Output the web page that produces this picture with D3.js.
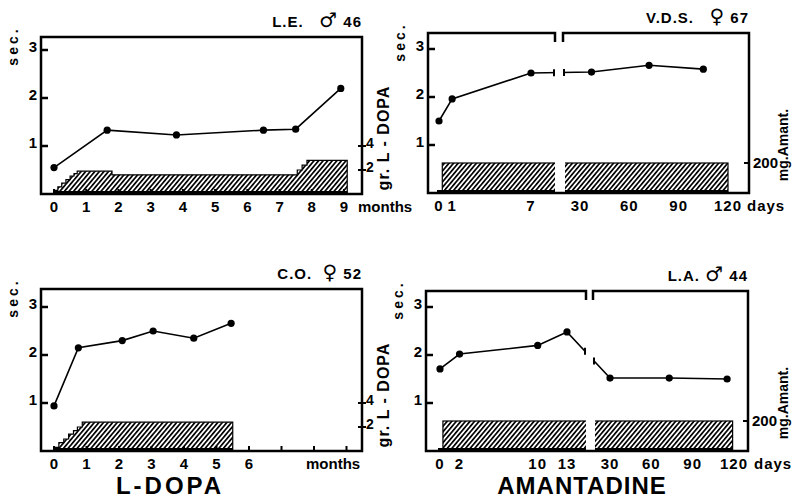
<!DOCTYPE html>
<html>
<head>
<meta charset="utf-8">
<script src="https://d3js.org/d3.v7.min.js"></script>
<style>
  html, body { margin: 0; padding: 0; background: #fff; }
  svg text { font-family: "Liberation Sans", Arial, sans-serif; font-weight: bold; fill: #000; }
</style>
</head>
<body>
<div id="chart"></div>
<script>
// --- data ---
// L.E. (L-DOPA, months)
var leMonths = [0, 1.65, 3.8, 6.5, 7.5, 8.9];
var leSec    = [0.55, 1.33, 1.23, 1.33, 1.35, 2.2];
var leDoseMonths = [0, 0.12, 0.24, 0.37, 0.5, 0.62, 0.72, 1.8, 7.55, 7.7, 7.85, 9.1];
var leDoseGr     = [0.3, 0.6, 0.9, 1.2, 1.5, 1.7, 1.9, 1.6, 2.0, 2.4, 2.8, 2.8];

// C.O. (L-DOPA, months)
var coMonths = [0, 0.75, 2.1, 3.05, 4.3, 5.45];
var coSec    = [0.94, 2.15, 2.3, 2.5, 2.35, 2.66];
var coDoseMonths = [0, 0.15, 0.3, 0.45, 0.6, 0.72, 0.87, 5.5];
var coDoseGr     = [0.3, 0.7, 1.0, 1.4, 1.7, 2.0, 2.4, 2.4];

// V.D.S. (Amantadine, days)
var vdsDays = [0, 1, 7, 37, 72, 105];
var vdsSec  = [1.5, 1.96, 2.5, 2.52, 2.66, 2.58];
var vdsDoseDays = [0.25, 120];
var vdsDoseMg   = [200, 200];

// L.A. (Amantadine, days)
var laDays = [0, 2, 10, 13, 30, 73, 115];
var laSec  = [1.71, 2.02, 2.2, 2.48, 1.52, 1.52, 1.5];
var laDoseDays = [0.3, 119];
var laDoseMg   = [200, 200];

// axis tick labels
var monthTicksLE = [0, 1, 2, 3, 4, 5, 6, 7, 8, 9];
var monthTicksCO = [0, 1, 2, 3, 4, 5, 6];
var monthTickMarks = [0, 1, 2, 3, 4, 5, 6, 7, 8, 9];
var dayTicksVDS = [0, 1, 7, 30, 60, 90, 120];
var dayTicksLA  = [0, 2, 10, 13, 30, 60, 90, 120];
var secTicks = [1, 2, 3];
var grTicks = [2, 4];
var mgTicks = [200];

var svg = d3.select('#chart').append('svg')
    .attr('width', 792)
    .attr('height', 499);

var defs = svg.append('defs');
var hatch = defs.append('pattern')
    .attr('id', 'hatch')
    .attr('patternUnits', 'userSpaceOnUse')
    .attr('width', 3.5)
    .attr('height', 10)
    .attr('patternTransform', 'rotate(40)');
hatch.append('rect').attr('width', 3.5).attr('height', 10).attr('fill', '#fff');
hatch.append('line')
    .attr('x1', 0.8).attr('y1', 0).attr('x2', 0.8).attr('y2', 10)
    .attr('stroke', '#000').attr('stroke-width', 1.8);

// L-DOPA panels -------------------------------------------------------------
function lDopaPanel(o){
    var g = svg.append('g');
    var x = d3.scaleLinear().domain([0, o.xMax]).range(o.xRange);
    var y = d3.scaleLinear().domain([0, 3]).range([o.b, o.b - 144]);
    var yd = d3.scaleLinear().domain([0, 4]).range([o.b, o.b - 48]);

    // hatched dose staircase
    var doses = o.doseX.map(function(d, i){ return {x: d, v: o.doseV[i]}; });
    var area = d3.area()
        .curve(d3.curveStepAfter)
        .x(function(d){ return x(d.x); })
        .y0(o.b)
        .y1(function(d){ return yd(d.v); });
    g.append('path').datum(doses)
        .attr('d', area)
        .attr('fill', 'url(#hatch)')
        .attr('stroke', '#000')
        .attr('stroke-width', 1.2);
    g.append('rect')
        .attr('x', x(o.doseX[0])).attr('y', o.b - 3)
        .attr('width', x(o.doseX[o.doseX.length-1]) - x(o.doseX[0]))
        .attr('height', 3).attr('fill', '#000');

    frame(g, o, null);

    // x ticks inside, labels below
    g.selectAll('.xt').data(monthTickMarks).enter().append('line')
        .attr('x1', x).attr('x2', x)
        .attr('y1', o.b).attr('y2', o.b - 5)
        .attr('stroke', '#000').attr('stroke-width', 2);
    g.selectAll('.xl').data(o.xLabels).enter().append('text')
        .attr('x', x).attr('y', o.b + 18)
        .attr('text-anchor', 'middle')
        .style('font-size', '15px')
        .text(function(d){ return d; });
    g.append('text')
        .attr('x', o.unitX).attr('y', o.b + 18)
        .style('font-size', '15px')
        .text('months');

    secAxis(g, o, y);

    // right gr. axis
    g.selectAll('.gt').data(grTicks).enter().append('line')
        .attr('x1', o.r - 4).attr('x2', o.r + 4)
        .attr('y1', yd).attr('y2', yd)
        .attr('stroke', '#000').attr('stroke-width', 2);
    g.selectAll('.gl').data(grTicks).enter().append('text')
        .attr('x', o.r + 4).attr('y', function(d){ return yd(d) + 2; })
        .style('font-size', '14px')
        .text(function(d){ return d; });
    g.append('text')
        .attr('transform', 'translate(' + (o.r + 27) + ',' + (o.b - 56) + ') rotate(-90)')
        .attr('text-anchor', 'middle')
        .style('font-size', '16px')
        .style('letter-spacing', '1px')
        .style('white-space', 'pre')
        .text('gr. L - DOPA');

    var pts = o.px.map(function(d, i){ return [x(d), y(o.py[i])]; });
    series(g, pts, pts);
    title(g, o);
}

// Amantadine panels (broken day axis) ----------------------------------------
function amantadinePanel(o){
    var g = svg.append('g');
    var xl = d3.scaleLinear().domain(o.leftDom).range(o.leftRange);
    var xr = d3.scaleLinear().domain([30, 120]).range(o.rightRange);
    var x = function(d){ return d <= o.split ? xl(d) : xr(d); };
    var y = d3.scaleLinear().domain([0, 3]).range([o.b, o.b - 144]);
    var ym = d3.scaleLinear().domain([0, 200]).range([o.b, o.b - 30]);

    var clipId = 'clip' + o.id;
    var cp = defs.append('clipPath').attr('id', clipId);
    cp.append('rect').attr('x', 0).attr('y', 0).attr('width', o.gap[0]).attr('height', 499);
    cp.append('rect').attr('x', o.gap[1]).attr('y', 0).attr('width', 792 - o.gap[1]).attr('height', 499);
    var cpBar = defs.append('clipPath').attr('id', clipId + 'b');
    cpBar.append('rect').attr('x', 0).attr('y', 0).attr('width', o.gap[0]).attr('height', 499);
    cpBar.append('rect').attr('x', o.gap[1] + 2).attr('y', 0).attr('width', 792 - o.gap[1]).attr('height', 499);

    // bar runs through both sides of the break
    var bx0 = xl(o.doseX[0]), bx1 = xr(o.doseX[1]);
    var gb = g.append('g').attr('clip-path', 'url(#' + clipId + 'b)');
    gb.append('rect')
        .attr('x', bx0).attr('y', ym(o.doseV[0]))
        .attr('width', bx1 - bx0).attr('height', o.b - ym(o.doseV[0]))
        .attr('fill', 'url(#hatch)')
        .attr('stroke', '#000').attr('stroke-width', 1.2);
    gb.append('rect')
        .attr('x', xl(0) - 2).attr('y', o.b - 3)
        .attr('width', bx1 - xl(0) + 2).attr('height', 3)
        .attr('fill', '#000');

    frame(g, o, o.gap);

    g.selectAll('.xl').data(o.xLabels).enter().append('text')
        .attr('x', x).attr('y', o.b + 18)
        .attr('text-anchor', 'middle')
        .style('font-size', '15px')
        .style('letter-spacing', '1px')
        .text(function(d){ return d; });
    g.append('text')
        .attr('x', o.unitX).attr('y', o.b + 18)
        .style('font-size', '15px')
        .style('letter-spacing', '1px')
        .text('days');

    secAxis(g, o, y);

    // right mg axis
    g.selectAll('.mt').data(mgTicks).enter().append('line')
        .attr('x1', o.r - 5).attr('x2', o.r + 1)
        .attr('y1', ym).attr('y2', ym)
        .attr('stroke', '#000').attr('stroke-width', 2);
    g.selectAll('.ml').data(mgTicks).enter().append('text')
        .attr('x', o.r + 4).attr('y', function(d){ return ym(d) + 5; })
        .style('font-size', '15px')
        .text(function(d){ return d; });
    g.append('text')
        .attr('transform', 'translate(788,' + (o.b - 48) + ') rotate(-90)')
        .attr('text-anchor', 'middle')
        .style('font-size', '14px')
        .text('mg.Amant.');

    var pts = o.px.map(function(d, i){ return [x(d), y(o.py[i])]; });
    var gl = g.append('g').attr('clip-path', 'url(#' + clipId + ')');
    series(gl, pts, pts);

    // little end marks where the line meets the break
    var i = o.px.findIndex(function(d){ return d > o.split; });
    var a = pts[i-1], c = pts[i];
    [o.gap[0] - 1, o.gap[1] + 1].forEach(function(bx){
        var t = (bx - a[0]) / (c[0] - a[0]);
        var by = a[1] + t * (c[1] - a[1]);
        g.append('line')
            .attr('x1', bx).attr('x2', bx)
            .attr('y1', by - 3.5).attr('y2', by + 3.5)
            .attr('stroke', '#000').attr('stroke-width', 2);
    });

    title(g, o);
}

function frame(g, o, gap){
    var w = 2.5;
    if(gap){
        g.append('path')
            .attr('d', 'M' + gap[0] + ',' + (o.t + 9) + 'V' + o.t + 'H' + o.l + 'V' + o.b + 'H' + o.r + 'V' + o.t + 'H' + gap[1] + 'V' + (o.t + 9))
            .attr('fill', 'none').attr('stroke', '#000').attr('stroke-width', w);
    }else{
        g.append('rect')
            .attr('x', o.l).attr('y', o.t)
            .attr('width', o.r - o.l).attr('height', o.b - o.t)
            .attr('fill', 'none').attr('stroke', '#000').attr('stroke-width', w);
    }
}

function secAxis(g, o, y){
    g.selectAll('.st').data(secTicks).enter().append('line')
        .attr('x1', o.l).attr('x2', o.l + 7)
        .attr('y1', y).attr('y2', y)
        .attr('stroke', '#000').attr('stroke-width', 2.5);
    g.selectAll('.sl').data(secTicks).enter().append('text')
        .attr('x', o.l - 4).attr('y', function(d){ return y(d) + 2; })
        .attr('text-anchor', 'end')
        .style('font-size', '15px')
        .text(function(d){ return d; });
    g.append('text')
        .attr('transform', 'translate(' + (o.l - 23) + ',' + (o.t + 9) + ') rotate(-90)')
        .attr('text-anchor', 'middle')
        .style('font-size', '14px')
        .style('letter-spacing', '3px')
        .text('sec.');
}

function series(g, linePts, dotPts){
    g.append('path')
        .attr('d', d3.line()(linePts))
        .attr('fill', 'none')
        .attr('stroke', '#000')
        .attr('stroke-width', 1.6);
    g.selectAll('circle').data(dotPts).enter().append('circle')
        .attr('cx', function(d){ return d[0]; })
        .attr('cy', function(d){ return d[1]; })
        .attr('r', 3.6)
        .attr('fill', '#000');
}

function title(g, o){
    var t = g.append('text')
        .attr('x', o.r).attr('y', o.t - 10)
        .attr('text-anchor', 'end')
        .style('font-size', '15px')
        .style('letter-spacing', '1px')
        .style('white-space', 'pre');
    t.append('tspan').text(o.title[0]);
    t.append('tspan')
        .style('font-family', '"DejaVu Sans", sans-serif')
        .style('font-size', '20px')
        .text(o.title[1]);
    t.append('tspan').text(o.title[2]);
}

lDopaPanel({
    l: 41, r: 362, t: 37, b: 194,
    xMax: 9, xRange: [54, 344],
    xLabels: monthTicksLE, unitX: 358,
    px: leMonths, py: leSec,
    doseX: leDoseMonths, doseV: leDoseGr,
    title: ['L.E.   ', '\u2642', ' 46']
});

lDopaPanel({
    l: 41, r: 362, t: 289, b: 451,
    xMax: 6, xRange: [54, 249],
    xLabels: monthTicksCO, unitX: 306,
    px: coMonths, py: coSec,
    doseX: coDoseMonths, doseV: coDoseGr,
    title: ['C.O.  ', '\u2640', ' 52']
});

amantadinePanel({
    id: 'vds',
    l: 428, r: 749, t: 33, b: 193,
    gap: [555, 563], split: 10,
    leftDom: [0, 7], leftRange: [439, 531],
    rightRange: [580, 728],
    xLabels: dayTicksVDS, unitX: 747,
    px: vdsDays, py: vdsSec,
    doseX: vdsDoseDays, doseV: vdsDoseMg,
    title: ['V.D.S.   ', '\u2640', ' 67']
});

amantadinePanel({
    id: 'la',
    l: 426, r: 748, t: 291, b: 451,
    gap: [586, 593], split: 20,
    leftDom: [0, 13], leftRange: [440, 567],
    rightRange: [610, 734],
    xLabels: dayTicksLA, unitX: 754,
    px: laDays, py: laSec,
    doseX: laDoseDays, doseV: laDoseMg,
    title: ['L.A. ', '\u2642', ' 44']
});

// big captions
svg.append('text')
    .attr('x', 170).attr('y', 494)
    .attr('text-anchor', 'middle')
    .style('font-size', '24px')
    .style('letter-spacing', '3px')
    .text('L-DOPA');
svg.append('text')
    .attr('x', 582).attr('y', 494)
    .attr('text-anchor', 'middle')
    .style('font-size', '24px')
    .style('letter-spacing', '1px')
    .text('AMANTADINE');
</script>
</body>
</html>
